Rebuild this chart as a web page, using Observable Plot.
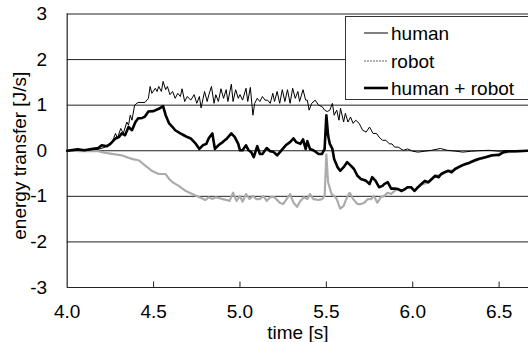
<!DOCTYPE html>
<html><head><meta charset="utf-8">
<script src="https://cdn.jsdelivr.net/npm/d3@7"></script>
<script src="https://cdn.jsdelivr.net/npm/@observablehq/plot@0.6"></script>
<style>body{margin:0;background:#fff}</style>
</head><body><div id="chart"></div>
<script>
const seriesNames = ["human", "robot", "human + robot"];
const xTicks = [4.0, 4.5, 5.0, 5.5, 6.0, 6.5];
const yTicks = [-3, -2, -1, 0, 1, 2, 3];

const humanTime = [4.00,4.10,4.18,4.22,4.26,4.28,4.29,4.31,4.325,4.345,4.355,4.365,4.375,4.39,4.41,4.45,4.47,4.48,4.49,4.51,4.52,4.53,4.545,4.555,4.57,4.58,4.595,4.61,4.625,4.64,4.655,4.665,4.68,4.695,4.715,4.735,4.75,4.765,4.775,4.795,4.81,4.82,4.835,4.85,4.86,4.875,4.89,4.905,4.92,4.93,4.95,4.96,4.975,4.99,5.00,5.015,5.035,5.045,5.06,5.075,5.085,5.10,5.115,5.13,5.145,5.16,5.175,5.19,5.20,5.215,5.23,5.245,5.26,5.275,5.29,5.305,5.32,5.335,5.345,5.365,5.38,5.39,5.40,5.415,5.435,5.455,5.475,5.49,5.505,5.52,5.535,5.545,5.56,5.573,5.582,5.60,5.61,5.625,5.64,5.655,5.67,5.69,5.71,5.73,5.75,5.77,5.79,5.805,5.825,5.845,5.865,5.88,5.895,5.915,5.945,5.97,6.00,6.03,6.07,6.11,6.16,6.20,6.25,6.29,6.34,6.38,6.44,6.50,6.54,6.60,6.67];
const humanValue = [0,0.01,0.03,0.08,0.19,0.38,0.27,0.49,0.38,0.63,0.56,0.78,0.67,1.00,1.06,1.06,1.15,1.41,1.26,1.37,1.30,1.41,1.30,1.52,1.34,1.41,1.23,1.30,1.15,1.26,1.19,1.36,1.08,1.19,1.11,1.23,1.04,1.19,0.94,1.30,1.08,1.23,1.41,1.04,1.23,1.08,1.36,1.15,1.34,1.08,1.46,1.08,1.34,1.15,1.23,1.11,1.37,1.08,1.39,0.78,1.04,1.15,1.08,1.19,1.11,1.11,1.04,1.26,1.08,1.30,1.04,1.34,1.08,1.34,1.04,1.37,1.15,1.30,1.08,1.34,1.11,1.11,0.89,1.04,1.11,1.00,0.97,0.89,0.86,0.89,1.04,0.78,0.89,0.67,0.93,0.63,0.82,0.63,0.74,0.60,0.67,0.60,0.45,0.41,0.52,0.38,0.38,0.30,0.23,0.23,0.15,0.15,0.08,0.08,0.01,0.04,-0.01,-0.03,-0.01,0.01,0.05,0.01,-0.01,-0.03,-0.01,0,0.01,-0.01,0,0,-0.01];

const robotTime = [4.00,4.10,4.18,4.20,4.26,4.315,4.375,4.415,4.45,4.49,4.53,4.57,4.59,4.61,4.645,4.685,4.725,4.765,4.80,4.82,4.84,4.86,4.90,4.94,4.96,4.98,5.00,5.015,5.035,5.055,5.075,5.095,5.115,5.135,5.155,5.175,5.195,5.21,5.23,5.25,5.27,5.29,5.31,5.33,5.35,5.37,5.39,5.405,5.425,5.455,5.475,5.49,5.50,5.51,5.53,5.545,5.56,5.58,5.60,5.615,5.635,5.655,5.68,5.70,5.72,5.74,5.76,5.775,5.795,5.815,5.835,5.855,5.875,5.895,5.915,5.935,5.955,5.97,5.99,6.01,6.03,6.05,6.09,6.13,6.165,6.205,6.245,6.285,6.325,6.36,6.42,6.46,6.525,6.595,6.67];
const robotValue = [0,-0.01,-0.01,-0.03,-0.07,-0.10,-0.18,-0.21,-0.32,-0.44,-0.51,-0.51,-0.62,-0.69,-0.77,-0.88,-0.95,-1.02,-1.08,-1.02,-1.06,-1.02,-1.06,-1.10,-0.92,-1.10,-0.99,-1.12,-0.95,-1.06,-0.99,-1.06,-1.06,-0.99,-1.10,-1.02,-1.01,-1.06,-1.14,-1.17,-1.06,-0.95,-1.14,-1.23,-1.10,-1.02,-1.06,-0.95,-1.06,-1.08,-1.06,-0.99,-0.07,-0.69,-0.95,-0.99,-1.06,-1.27,-1.21,-1.06,-0.92,-1.06,-1.17,-1.17,-1.14,-1.06,-1.06,-0.99,-1.14,-1.02,-0.99,-0.92,-0.95,-0.88,-0.84,-0.89,-0.85,-0.81,-0.81,-0.89,-0.81,-0.74,-0.70,-0.56,-0.52,-0.45,-0.41,-0.33,-0.28,-0.22,-0.15,-0.11,-0.04,-0.02,0];

const sumTime = [4.00,4.06,4.10,4.14,4.18,4.20,4.23,4.25,4.28,4.30,4.315,4.335,4.355,4.375,4.395,4.41,4.435,4.45,4.47,4.50,4.53,4.555,4.57,4.59,4.61,4.625,4.655,4.675,4.695,4.715,4.745,4.765,4.785,4.805,4.82,4.84,4.855,4.875,4.90,4.925,4.95,4.97,4.99,5.00,5.015,5.035,5.05,5.065,5.08,5.10,5.115,5.13,5.155,5.175,5.195,5.215,5.24,5.265,5.29,5.31,5.325,5.35,5.365,5.38,5.39,5.405,5.425,5.455,5.475,5.49,5.50,5.51,5.52,5.535,5.545,5.565,5.58,5.60,5.62,5.64,5.66,5.68,5.70,5.73,5.75,5.765,5.785,5.805,5.825,5.835,5.855,5.875,5.895,5.915,5.935,5.955,5.97,5.99,6.01,6.03,6.05,6.07,6.09,6.11,6.13,6.15,6.165,6.185,6.205,6.225,6.245,6.265,6.285,6.305,6.325,6.34,6.36,6.38,6.42,6.46,6.50,6.525,6.555,6.595,6.67];
const sumValue = [0,0.03,0.01,0.04,0.06,0.12,0.10,0.15,0.27,0.30,0.38,0.34,0.52,0.45,0.63,0.71,0.72,0.75,0.86,0.87,0.92,0.98,0.78,0.60,0.52,0.45,0.38,0.34,0.30,0.27,0.15,0.04,0.12,0.15,0.28,0.38,0.04,0.12,0.19,0.27,0.38,0.30,0.15,0.01,0.01,0.12,0.01,-0.03,-0.14,0.10,-0.07,-0.07,0.06,-0.01,-0.03,-0.10,0.01,0.12,0.19,0.27,0.19,0.15,0.25,0.04,0.21,0.04,0.01,-0.07,-0.07,0.04,0.78,0.34,0.15,0.04,-0.18,-0.36,-0.44,-0.36,-0.25,-0.32,-0.40,-0.55,-0.62,-0.66,-0.73,-0.58,-0.66,-0.80,-0.77,-0.73,-0.69,-0.83,-0.83,-0.84,-0.88,-0.84,-0.80,-0.80,-0.88,-0.80,-0.73,-0.66,-0.69,-0.62,-0.55,-0.58,-0.51,-0.47,-0.44,-0.47,-0.40,-0.36,-0.32,-0.29,-0.27,-0.24,-0.21,-0.18,-0.14,-0.10,-0.09,-0.03,-0.01,-0.01,0];

const human = humanTime.map((t, i) => ({t, v: humanValue[i]}));
const robot = robotTime.map((t, i) => ({t, v: robotValue[i]}));
const sum = sumTime.map((t, i) => ({t, v: sumValue[i]}));

const FONT = "Liberation Sans, Arial, Helvetica, sans-serif";
const FS = 19;

const plot = Plot.plot({
  width: 528,
  height: 342,
  marginLeft: 66.7,
  marginRight: 0,
  marginTop: 13.5,
  marginBottom: 55,
  style: {fontFamily: FONT, fontSize: FS + "px", background: "#fff", color: "#000", overflow: "visible"},
  x: {domain: [4, 6.67]},
  y: {domain: [-3, 3]},
  marks: [
    Plot.ruleY(yTicks, {stroke: "#222", strokeWidth: 1}),
    Plot.ruleX([4], {stroke: "#222", strokeWidth: 1.2}),
    Plot.ruleX(xTicks.slice(1), {y1: -3, y2: -2.88, stroke: "#222", strokeWidth: 1}),
    Plot.axisY({ticks: yTicks, tickSize: 0, tickPadding: 20, tickFormat: d => String(d), label: null, fontSize: FS}),
    Plot.axisX({ticks: xTicks, tickSize: 0, tickPadding: 17, tickFormat: d3.format(".1f"), label: null, fontSize: FS}),
    Plot.text(["time [s]"], {frameAnchor: "bottom", textAnchor: "middle", lineAnchor: "middle", dy: 45, fontSize: FS}),
    Plot.text(["energy transfer [J/s]"], {frameAnchor: "left", textAnchor: "middle", lineAnchor: "middle", rotate: -90, dx: -47, dy: 5, fontSize: FS}),
    Plot.line(robot, {x: "t", y: "v", stroke: "#ababab", strokeWidth: 2.2, strokeDasharray: "2.5,1"}),
    Plot.line(human, {x: "t", y: "v", stroke: "#000", strokeWidth: 1}),
    Plot.line(sum, {x: "t", y: "v", stroke: "#000", strokeWidth: 2.6, strokeLinejoin: "round"})
  ]
});

// legend drawn inside the plot's SVG
const svg = d3.select(plot);
const lg = svg.append("g").attr("font-family", FONT).attr("font-size", FS).attr("text-anchor", "start");
lg.append("rect").attr("x", 345.5).attr("y", 16.5).attr("width", 200).attr("height", 83)
  .attr("fill", "#fff").attr("stroke", "#333").attr("stroke-width", 1);
const rows = [
  {name: seriesNames[0], y: 33, stroke: "#000", w: 1, dash: null},
  {name: seriesNames[1], y: 61, stroke: "#b0b0b0", w: 2.2, dash: "2,1"},
  {name: seriesNames[2], y: 88, stroke: "#000", w: 2.6, dash: null}
];
rows.forEach(r => {
  lg.append("line").attr("x1", 364).attr("x2", 388).attr("y1", r.y).attr("y2", r.y)
    .attr("stroke", r.stroke).attr("stroke-width", r.w).attr("stroke-dasharray", r.dash);
  lg.append("text").attr("x", 391).attr("y", r.y).attr("dy", "0.35em").attr("text-anchor", "start").text(r.name);
});

document.getElementById("chart").appendChild(plot);
</script>
</body></html>
